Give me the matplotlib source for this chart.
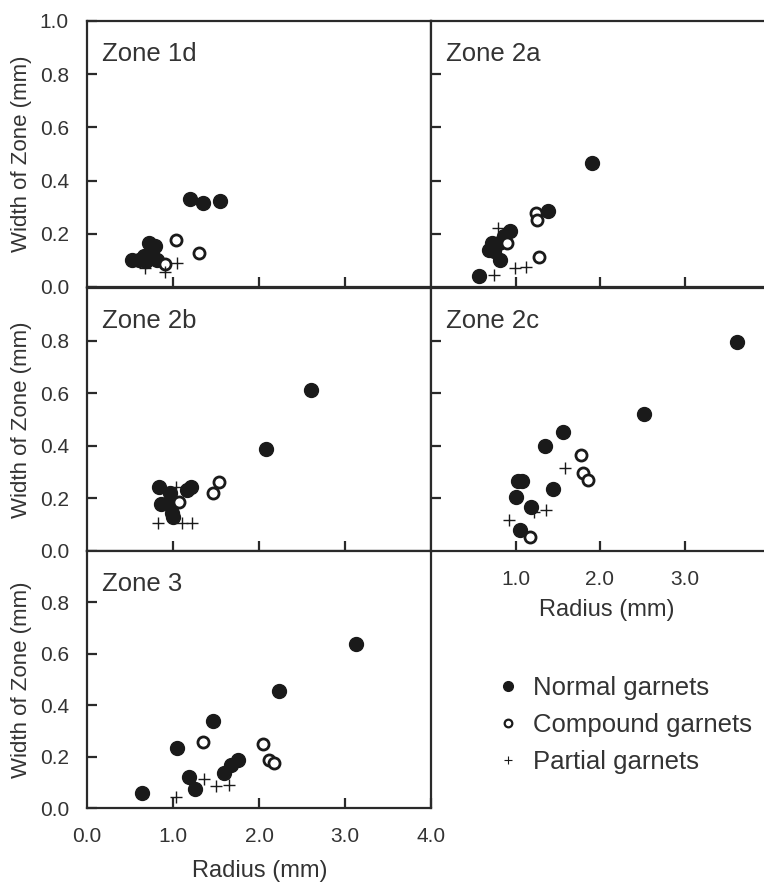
import matplotlib
matplotlib.use("Agg")
import matplotlib.pyplot as plt
from matplotlib.lines import Line2D

plt.rcParams['font.family'] = ['Liberation Sans', 'DejaVu Sans']

# radius (mm) / width of zone (mm)
z1d_norm_r = [0.52, 0.60, 0.66, 0.69, 0.75, 0.72, 0.79, 0.81, 1.20, 1.35, 1.55]
z1d_norm_w = [0.10, 0.10, 0.115, 0.096, 0.128, 0.165, 0.153, 0.10, 0.33, 0.317, 0.325]
z1d_comp_r = [1.035, 1.30, 0.91]
z1d_comp_w = [0.175, 0.128, 0.086]
z1d_part_r = [1.05, 0.91, 0.67]
z1d_part_w = [0.092, 0.058, 0.072]

z2a_norm_r = [0.57, 0.82, 0.69, 0.72, 0.80, 0.74, 0.86, 0.94, 1.38, 1.91]
z2a_norm_w = [0.042, 0.10, 0.14, 0.165, 0.165, 0.134, 0.19, 0.21, 0.285, 0.466]
z2a_comp_r = [1.24, 1.255, 1.275, 0.90]
z2a_comp_w = [0.28, 0.25, 0.112, 0.165]
z2a_part_r = [0.795, 0.74, 0.99, 1.125]
z2a_part_w = [0.22, 0.045, 0.07, 0.077]

z2b_norm_r = [0.84, 0.86, 0.96, 0.975, 0.985, 1.0, 1.16, 1.21, 2.08, 2.60]
z2b_norm_w = [0.245, 0.178, 0.22, 0.18, 0.143, 0.128, 0.232, 0.245, 0.387, 0.612]
z2b_comp_r = [1.07, 1.46, 1.53]
z2b_comp_w = [0.187, 0.22, 0.262]
z2b_part_r = [0.83, 1.11, 1.22, 1.04]
z2b_part_w = [0.105, 0.105, 0.105, 0.245]

z2c_norm_r = [1.56, 1.346, 1.03, 1.08, 1.0, 1.18, 1.44, 1.05, 2.515, 3.625]
z2c_norm_w = [0.454, 0.40, 0.266, 0.266, 0.206, 0.168, 0.235, 0.08, 0.521, 0.796]
z2c_comp_r = [1.78, 1.795, 1.857, 1.177]
z2c_comp_w = [0.365, 0.295, 0.27, 0.054]
z2c_part_r = [1.58, 1.366, 1.216, 0.92]
z2c_part_w = [0.317, 0.156, 0.15, 0.118]

z3_norm_r = [0.636, 1.043, 1.46, 1.186, 1.256, 1.597, 1.68, 1.75, 2.236, 3.128]
z3_norm_w = [0.06, 0.235, 0.34, 0.12, 0.074, 0.137, 0.167, 0.187, 0.456, 0.64]
z3_comp_r = [1.35, 2.05, 2.12, 2.175]
z3_comp_w = [0.256, 0.248, 0.187, 0.176]
z3_part_r = [1.035, 1.36, 1.50, 1.65]
z3_part_w = [0.044, 0.113, 0.086, 0.09]

y_ticks = [0.0, 0.2, 0.4, 0.6, 0.8, 1.0]
x_ticks = [0.0, 1.0, 2.0, 3.0, 4.0]

W, H = 764, 882
ink = '#1a1a1a'
txt = '#333333'

fig = plt.figure(figsize=(W / 100, H / 100), dpi=100)


def px_axes(left, top, right, bottom):
    return fig.add_axes([left / W, 1 - bottom / H, (right - left) / W, (bottom - top) / H])


def draw(ax, nr, nw, cr, cw, pr, pw, title):
    ax.plot(nr, nw, 'o', color=ink, ms=10, mec=ink, ls='none', zorder=3)
    ax.plot(cr, cw, 'o', mfc='white', mec=ink, mew=2.0, ms=8, ls='none', zorder=4)
    ax.plot(pr, pw, '+', color=ink, ms=8, mew=1.0, ls='none', zorder=5)
    ax.annotate(title, xy=(0, 1), xycoords='axes fraction', xytext=(10.5, -28.5),
                textcoords='offset points', fontsize=18.5, color=txt, va='baseline')
    ax.set_ylim(0, 1.0)
    for s in ax.spines.values():
        s.set_linewidth(1.6)
        s.set_color('#2a2a2a')
    ax.tick_params(direction='in', length=7, width=1.6, color='#2a2a2a',
                   labelsize=15, labelcolor=txt)
    ax.tick_params(axis='x', pad=14)
    ax.tick_params(axis='y', pad=13)


# left column
ax1 = px_axes(87, 21, 431, 287)
ax3 = px_axes(87, 288, 431, 551)
ax5 = px_axes(87, 551, 431, 808)
# right column (runs off the right edge)
ax2 = px_axes(431, 21, 764, 287)
ax4 = px_axes(431, 288, 764, 551)

draw(ax1, z1d_norm_r, z1d_norm_w, z1d_comp_r, z1d_comp_w, z1d_part_r, z1d_part_w, 'Zone 1d')
draw(ax2, z2a_norm_r, z2a_norm_w, z2a_comp_r, z2a_comp_w, z2a_part_r, z2a_part_w, 'Zone 2a')
draw(ax3, z2b_norm_r, z2b_norm_w, z2b_comp_r, z2b_comp_w, z2b_part_r, z2b_part_w, 'Zone 2b')
draw(ax4, z2c_norm_r, z2c_norm_w, z2c_comp_r, z2c_comp_w, z2c_part_r, z2c_part_w, 'Zone 2c')
draw(ax5, z3_norm_r, z3_norm_w, z3_comp_r, z3_comp_w, z3_part_r, z3_part_w, 'Zone 3')

for ax in [ax1, ax3, ax5]:
    ax.set_xlim(0, 4.0)
    ax.set_xticks(x_ticks[1:4])
    ax.set_ylabel('Width of Zone (mm)', fontsize=16, color=txt)
    ax.yaxis.set_label_coords(-0.16, 0.5)
for ax in [ax2, ax4]:
    ax.set_xlim(0, 333 / 84.5)
    ax.set_xticks(x_ticks[1:4])
    ax.spines['right'].set_visible(False)
    ax.set_yticks(y_ticks[1:5])
    ax.set_yticklabels([])

ax1.set_yticks(y_ticks)
ax1.set_yticklabels(['%.1f' % v for v in y_ticks])
for ax in [ax3, ax5]:
    ax.set_yticks(y_ticks[:5])
    ax.set_yticklabels(['%.1f' % v for v in y_ticks[:5]])

for ax in [ax1, ax2, ax3]:
    ax.set_xticklabels([])

ax4.set_xticklabels(['%.1f' % v for v in x_ticks[1:4]])
ax4.set_xlabel('Radius (mm)', fontsize=17, color=txt)
ax4.xaxis.set_label_coords(0.528, -0.183)

# bottom-left shows all labels 0.0 .. 4.0, ticks only at 1..3
ax5.set_xticks(x_ticks)
ax5.set_xticklabels(['%.1f' % v for v in x_ticks])
ax5.get_xticklines()[0].set_visible(False)
ax5.get_xticklines()[-1].set_visible(False)
ax5.set_xlabel('Radius (mm)', fontsize=17, color=txt)
ax5.xaxis.set_label_coords(0.503, -0.204)

handles = [
    Line2D([], [], marker='o', ls='none', color=ink, ms=7),
    Line2D([], [], marker='o', ls='none', mfc='white', mec=ink, mew=1.6, ms=5.5),
    Line2D([], [], marker='+', ls='none', color=ink, ms=6, mew=0.8),
]
fig.legend(handles, ['Normal garnets', 'Compound garnets', 'Partial garnets'],
           loc='center left', bbox_to_anchor=(482 / W, 1 - 725 / H), frameon=False,
           fontsize=18.5, labelcolor=txt, handlelength=1.0, handletextpad=0.5,
           labelspacing=0.5, borderpad=0)

fig.savefig('out.png', dpi=100)
